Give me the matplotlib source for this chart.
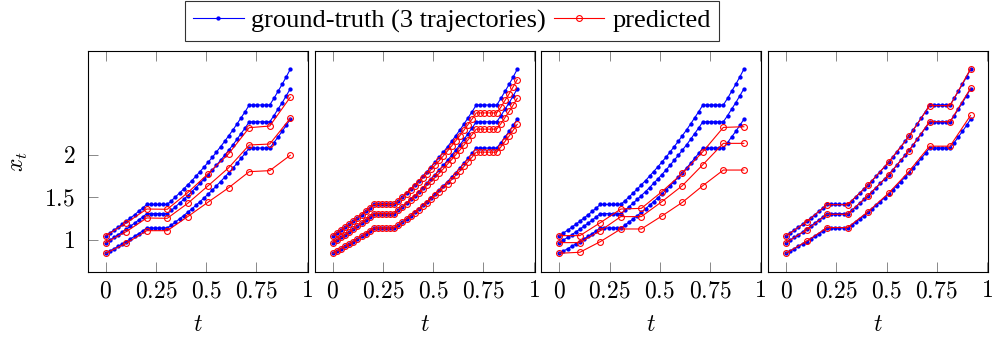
import numpy as np
import matplotlib
matplotlib.use("Agg")
import matplotlib.pyplot as plt

plt.rcParams['mathtext.fontset'] = 'cm'
plt.rcParams['font.family'] = ['Liberation Serif', 'DejaVu Serif']

# ================= data =================
# fine time grid of the ground truth
t_fine = [0.000, 0.020, 0.041, 0.061, 0.082, 0.102, 0.122, 0.143, 0.163, 0.184,
          0.204, 0.224, 0.245, 0.265, 0.286, 0.306, 0.327, 0.347, 0.367, 0.388,
          0.408, 0.429, 0.449, 0.469, 0.490, 0.510, 0.531, 0.551, 0.571, 0.592,
          0.612, 0.633, 0.653, 0.673, 0.694, 0.714, 0.735, 0.755, 0.776, 0.796,
          0.816, 0.837, 0.857, 0.878, 0.898, 0.918]
# coarse time grid of the predictions
t_coarse = [0.000, 0.102, 0.204, 0.306, 0.408, 0.510, 0.612, 0.714, 0.816, 0.918]

# ground truth, 3 trajectories
gt_top = [1.050, 1.082, 1.115, 1.149, 1.184, 1.220, 1.257, 1.295, 1.335, 1.375,
          1.417, 1.417, 1.417, 1.417, 1.417, 1.417, 1.461, 1.505, 1.551, 1.598,
          1.647, 1.697, 1.749, 1.802, 1.857, 1.913, 1.971, 2.032, 2.093, 2.157,
          2.223, 2.291, 2.360, 2.432, 2.506, 2.583, 2.583, 2.583, 2.583, 2.583,
          2.583, 2.661, 2.742, 2.826, 2.912, 3.001]
gt_mid = [0.970, 1.000, 1.030, 1.061, 1.094, 1.127, 1.161, 1.197, 1.233, 1.271,
          1.309, 1.309, 1.309, 1.309, 1.309, 1.309, 1.349, 1.390, 1.433, 1.476,
          1.521, 1.568, 1.615, 1.665, 1.715, 1.767, 1.821, 1.877, 1.934, 1.993,
          2.053, 2.116, 2.180, 2.247, 2.315, 2.386, 2.386, 2.386, 2.386, 2.386,
          2.386, 2.458, 2.533, 2.610, 2.690, 2.772]
gt_bot = [0.845, 0.871, 0.897, 0.925, 0.953, 0.982, 1.012, 1.042, 1.074, 1.107,
          1.141, 1.141, 1.141, 1.141, 1.141, 1.141, 1.175, 1.211, 1.248, 1.286,
          1.325, 1.366, 1.407, 1.450, 1.494, 1.540, 1.587, 1.635, 1.685, 1.736,
          1.789, 1.843, 1.899, 1.957, 2.017, 2.078, 2.078, 2.078, 2.078, 2.078,
          2.078, 2.142, 2.207, 2.274, 2.343, 2.415]

# panel 1 predictions (coarse)
p1_top = [1.051, 1.199, 1.363, 1.360, 1.555, 1.778, 2.012, 2.317, 2.336, 2.673]
p1_mid = [0.969, 1.098, 1.258, 1.254, 1.430, 1.637, 1.848, 2.114, 2.125, 2.426]
p1_bot = [0.844, 0.961, 1.109, 1.109, 1.274, 1.445, 1.613, 1.801, 1.813, 1.993]

# panel 2 predictions (fine)
p2_top = [1.050, 1.082, 1.115, 1.149, 1.184, 1.220, 1.257, 1.295, 1.335, 1.375,
          1.417, 1.417, 1.417, 1.417, 1.417, 1.417, 1.458, 1.500, 1.543, 1.586,
          1.632, 1.679, 1.727, 1.776, 1.827, 1.879, 1.932, 1.988, 2.044, 2.103,
          2.163, 2.225, 2.288, 2.353, 2.420, 2.490, 2.490, 2.490, 2.490, 2.490,
          2.490, 2.559, 2.636, 2.715, 2.797, 2.881]
p2_mid = [0.970, 1.000, 1.030, 1.061, 1.094, 1.127, 1.161, 1.197, 1.233, 1.271,
          1.309, 1.309, 1.309, 1.309, 1.309, 1.309, 1.347, 1.385, 1.425, 1.465,
          1.507, 1.551, 1.595, 1.641, 1.687, 1.735, 1.785, 1.836, 1.889, 1.943,
          1.998, 2.055, 2.113, 2.174, 2.236, 2.300, 2.300, 2.300, 2.300, 2.300,
          2.300, 2.364, 2.435, 2.508, 2.583, 2.661]
p2_bot = [0.845, 0.871, 0.897, 0.925, 0.953, 0.982, 1.012, 1.042, 1.074, 1.107,
          1.141, 1.141, 1.141, 1.141, 1.141, 1.141, 1.174, 1.208, 1.244, 1.280,
          1.317, 1.357, 1.396, 1.437, 1.479, 1.522, 1.567, 1.612, 1.660, 1.708,
          1.758, 1.809, 1.862, 1.917, 1.973, 2.030, 2.030, 2.030, 2.030, 2.030,
          2.030, 2.092, 2.155, 2.220, 2.287, 2.357]

# panel 3 predictions (coarse)
p3_top = [1.051, 1.051, 1.203, 1.363, 1.371, 1.566, 1.781, 2.035, 2.320, 2.328]
p3_mid = [0.969, 0.969, 1.109, 1.274, 1.274, 1.449, 1.637, 1.883, 2.133, 2.133]
p3_bot = [0.844, 0.856, 0.981, 1.129, 1.129, 1.281, 1.441, 1.637, 1.820, 1.820]

# panel 4 predictions (coarse)
p4_top = [1.047, 1.215, 1.414, 1.414, 1.645, 1.911, 2.215, 2.575, 2.575, 3.005]
p4_mid = [0.969, 1.117, 1.301, 1.301, 1.520, 1.762, 2.047, 2.387, 2.387, 2.778]
p4_bot = [0.845, 0.985, 1.145, 1.145, 1.332, 1.548, 1.805, 2.100, 2.100, 2.460]

x_ticks = [0, 0.25, 0.5, 0.75, 1]
x_ticklabels = ['0', '0.25', '0.5', '0.75', '1']
y_ticks = [1, 1.5, 2]
y_ticklabels = ['1', '1.5', '2']

ground_truth = [gt_top, gt_mid, gt_bot]
panels = [
    (t_coarse, [p1_top, p1_mid, p1_bot]),
    (t_fine, [p2_top, p2_mid, p2_bot]),
    (t_coarse, [p3_top, p3_mid, p3_bot]),
    (t_coarse, [p4_top, p4_mid, p4_bot]),
]

# ================= plotting =================
W, H = 992, 343
fig = plt.figure(figsize=(W / 100, H / 100), dpi=100)

lefts = [87.7, 314.7, 541.3, 768.0]
ax_w, ax_top, ax_bot = 220.0, 51.0, 271.7
fs = 17

gt_line, pred_line = None, None
for i, (t_pred, preds) in enumerate(panels):
    ax = fig.add_axes([lefts[i] / W, (H - ax_bot) / H, ax_w / W, (ax_bot - ax_top) / H])
    for gt in ground_truth:
        gt_line, = ax.plot(t_fine, gt, color='#0000ff', lw=0.8, marker='o',
                           ms=3.1, mec='#0000ff', mfc='#0000ff', mew=0)
    for p in preds:
        pred_line, = ax.plot(t_pred, p, color='#ff0000', lw=0.8, marker='o',
                             ms=4.2, mfc='none', mec='#ff0000', mew=0.8)

    ax.set_xlim(-0.09, 1.005)
    ax.set_ylim(0.628, 3.216)
    ax.set_xticks(x_ticks)
    ax.set_xticklabels(['$%s$' % s for s in x_ticklabels], fontsize=fs)
    ax.tick_params(axis='x', direction='in', top=True, length=7.5, width=0.7,
                   color='#888888', pad=7)
    if i == 0:
        ax.set_yticks(y_ticks)
        ax.set_yticklabels(['$%s$' % s for s in y_ticklabels], fontsize=fs)
        ax.tick_params(axis='y', direction='in', length=7.5, width=0.7,
                       color='#888888', pad=9)
        ax.set_ylabel('$x_t$', fontsize=fs, labelpad=10)
    else:
        ax.set_yticks([])
    ax.set_xlabel('$t$', fontsize=fs, labelpad=9)
    for s in ax.spines.values():
        s.set_linewidth(0.8)

leg = fig.legend([gt_line, pred_line], ['ground-truth (3 trajectories)', 'predicted'],
                 loc='lower center', bbox_to_anchor=(452 / W, (H - 40.7) / H), ncol=2,
                 fontsize=19, frameon=True, fancybox=False, edgecolor='black',
                 handlelength=1.9, handletextpad=0.3, columnspacing=0.3,
                 borderpad=0.3, borderaxespad=0.0)
leg.get_frame().set_linewidth(0.8)

fig.savefig('out.png', dpi=100)
plt.close()
